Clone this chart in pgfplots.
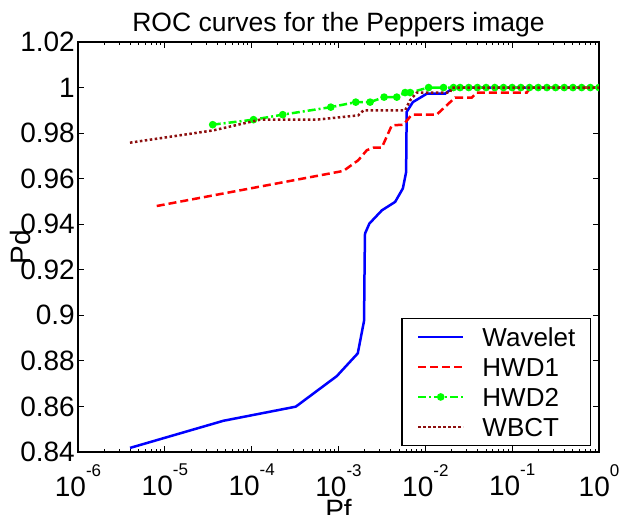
\documentclass[border=0pt]{standalone}
\usepackage{pgfplots}
\pgfplotsset{compat=1.18}
\usepackage{fontspec}
\setmainfont{Liberation Sans}
\definecolor{wbct}{RGB}{140,15,15}
\newcommand\expo[1]{\raisebox{20pt}{\fontsize{17}{17}\selectfont #1}}

\begin{document}
\begin{tikzpicture}
\begin{axis}[
    scale only axis, width=521pt, height=410pt,
    xmode=log, xmin=1e-6, xmax=1,
    ymin=0.84, ymax=1.02,
    clip marker paths=true,
    xtick={1e-6,1e-5,1e-4,1e-3,1e-2,1e-1,1},
    xticklabels={10\expo{-6},10\expo{-5},10\expo{-4},10\expo{-3},10\expo{-2},10\expo{-1},10\expo{0}},
    minor xtick={2e-6,3e-6,4e-6,5e-6,6e-6,7e-6,8e-6,9e-6,
                 2e-5,3e-5,4e-5,5e-5,6e-5,7e-5,8e-5,9e-5,
                 2e-4,3e-4,4e-4,5e-4,6e-4,7e-4,8e-4,9e-4,
                 2e-3,3e-3,4e-3,5e-3,6e-3,7e-3,8e-3,9e-3,
                 2e-2,3e-2,4e-2,5e-2,6e-2,7e-2,8e-2,9e-2,
                 0.2,0.3,0.4,0.5,0.6,0.7,0.8,0.9},
    ytick={0.84,0.86,0.88,0.9,0.92,0.94,0.96,0.98,1,1.02},
    yticklabels={0.84,0.86,0.88,0.9,0.92,0.94,0.96,0.98,1,1.02},
    tick align=inside, tick pos=both,
    major tick length=6pt, minor tick length=3.5pt,
    every tick/.style={black, line width=0.9pt},
    axis line style={line width=1.1pt},
    tick label style={font=\fontsize{28}{28}\selectfont},
    yticklabel style={inner sep=0pt, xshift=-3pt},
    xticklabel style={inner sep=0pt, yshift=-12pt},
    title={ROC curves for the Peppers image},
    title style={font=\fontsize{26.5}{26.5}\selectfont, at={(axis description cs:0.5,1)}, anchor=base, yshift=4pt, inner sep=0pt},
    xlabel={Pf},
    xlabel style={font=\fontsize{28}{28}\selectfont, at={(axis description cs:0.5,0)}, anchor=north, yshift=-47pt, inner sep=0pt},
    ylabel={Pd},
    ylabel style={font=\fontsize{28}{28}\selectfont, at={(axis description cs:-0.1113,0.5)}, anchor=center, inner sep=0pt},
    legend image code/.code={\draw[mark repeat=2,mark phase=2,#1] plot coordinates {(0pt,0pt) (22.5pt,0pt) (45pt,0pt)};},
    legend style={at={(axis description cs:0.9846,0.0146)}, anchor=south east,
        font=\fontsize{26}{26}\selectfont, draw=black, line width=1.1pt,
        inner xsep=15pt, inner ysep=9pt, row sep=11pt,
        nodes={inner sep=0pt, text height=19pt, text depth=0pt},
        /tikz/every odd column/.append style={column sep=18pt}},
    legend cell align=left,
]
\addplot[blue, line width=2.5pt] coordinates {
  (3.98e-6,0.8418) (4.72e-5,0.8537) (3.22e-4,0.8599) (9.55e-4,0.8733)
  (1.667e-3,0.8833) (1.97e-3,0.8976) (2.0e-3,0.9240) (2.02e-3,0.9359)
  (2.27e-3,0.9403) (3.16e-3,0.9461) (4.49e-3,0.9498) (5.51e-3,0.9557)
  (6.01e-3,0.9629) (6.1e-3,0.9893) (7.18e-3,0.9936) (1.04e-2,0.9973)
  (1.69e-2,0.9973) (2.11e-2,1.0) (1,1.0)
};
\addlegendentry{Wavelet}
\addplot[red, line width=2.5pt, dash pattern=on 8pt off 4pt] coordinates {
  (8.07e-6,0.9480) (1.14e-3,0.9634) (1.69e-3,0.9681) (2.12e-3,0.9725)
  (2.52e-3,0.9736) (3.15e-3,0.9736) (4.11e-3,0.9834) (5.6e-3,0.9837)
  (6.98e-3,0.9881) (1.35e-2,0.9881) (2.2e-2,0.9956) (3.43e-2,0.9956)
  (3.92e-2,0.9978) (0.1476,0.9978) (0.161,1.0) (1,1.0)
};
\addlegendentry{HWD1}
\addplot[green, line width=2.5pt, dash pattern=on 8pt off 3pt on 2pt off 3pt,
         mark=*, mark size=2.5pt, mark options={solid, fill=green}] coordinates {
  (3.56e-5,0.9837) (1.05e-4,0.9859) (2.28e-4,0.9881) (8.15e-4,0.9914)
  (1.58e-3,0.9936) (2.31e-3,0.9936) (3.35e-3,0.9958) (4.69e-3,0.9958)
  (5.85e-3,0.9978) (6.68e-3,0.9978) (1.09e-2,1.0) (1.62e-2,1.0)
  (2.11e-2,1.0) (2.512e-2,1.0) (3.162e-2,1.0) (3.981e-2,1.0)
  (5.012e-2,1.0) (6.310e-2,1.0) (7.943e-2,1.0) (0.1,1.0)
  (0.1259,1.0) (0.1585,1.0) (0.1995,1.0) (0.2512,1.0) (0.3162,1.0)
  (0.3981,1.0) (0.5012,1.0) (0.6310,1.0) (0.7943,1.0) (1,1.0)
};
\addlegendentry{HWD2}
\addplot[wbct, line width=2.5pt, dash pattern=on 2.5pt off 2.5pt] coordinates {
  (3.97e-6,0.9758) (3.62e-5,0.9812) (1.25e-4,0.9859) (5.62e-4,0.9859)
  (1.69e-3,0.9878) (1.94e-3,0.9900) (5.85e-3,0.9900) (6.68e-3,0.9944)
  (7.98e-3,0.9978) (1.93e-2,0.9978) (2.02e-2,1.0) (1,1.0)
};
\addlegendentry{WBCT}
\end{axis}
\pgfresetboundingbox
\path ([shift={(-78pt,-62pt)}]current axis.south west) rectangle ([shift={(22pt,42pt)}]current axis.north east);
\end{tikzpicture}
\end{document}
